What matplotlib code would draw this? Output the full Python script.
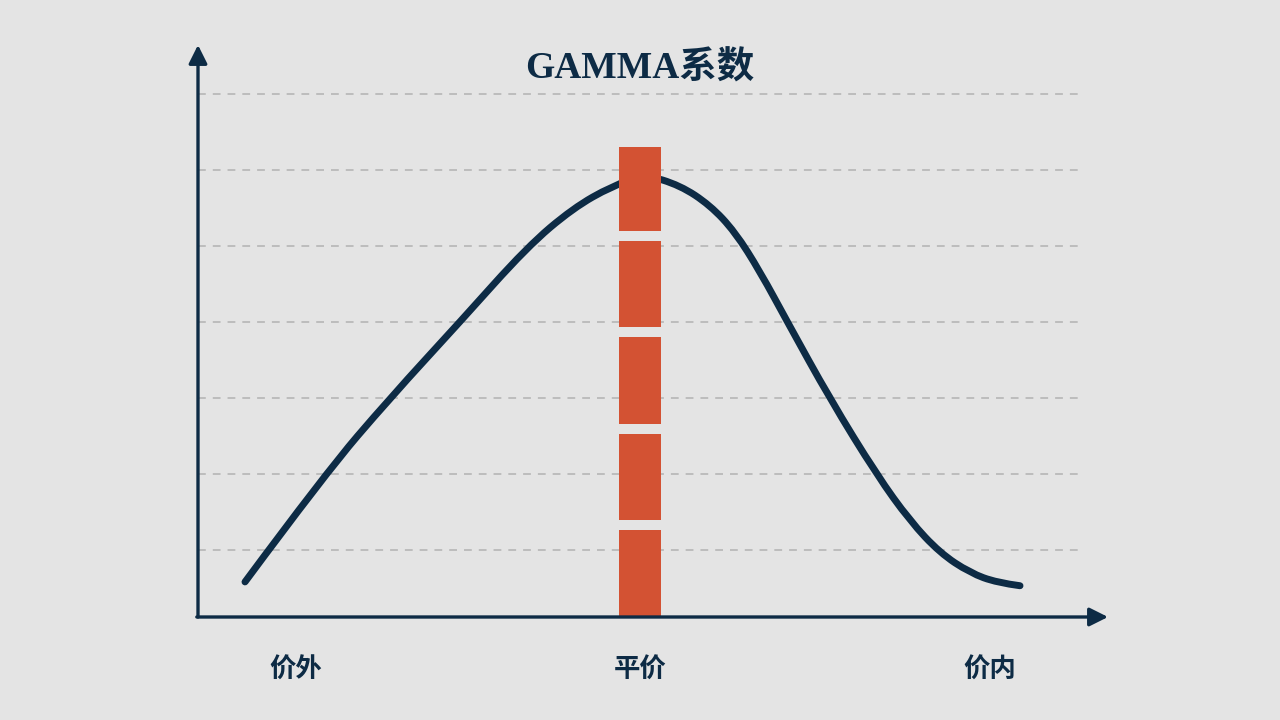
import matplotlib
matplotlib.use("Agg")
import matplotlib.pyplot as plt
from matplotlib.path import Path
from matplotlib.patches import PathPatch

# values (x: distance from the y axis, y: gamma level)
curve_x = [0.47, 1.27, 1.92, 2.62, 3.29, 3.75, 4.14, 4.47, 4.82, 5.12, 5.37,
           5.62, 5.90, 6.32, 6.79, 7.12, 7.42, 7.72, 7.99, 8.22]
curve_y = [0.46, 1.875, 2.87, 3.87, 4.85, 5.36, 5.65, 5.80, 5.66, 5.40, 5.05,
           4.53, 3.855, 2.86, 1.86, 1.26, 0.84, 0.58, 0.45, 0.41]

grid_levels = [0.88, 1.875, 2.87, 3.87, 4.86, 5.86, 6.86]

bar_x = 4.42
bar_bottoms = [0.0, 1.27, 2.53, 3.80, 5.06]
bar_tops = [1.14, 2.40, 3.67, 4.93, 6.16]

tick_pos = [0.98, 4.42, 7.92]
tick_labels = ["价外", "平价", "价内"]

title = "GAMMA系数"

BG = "#e4e4e4"
NAVY = "#0d2b45"
ORANGE = "#d35233"
GRID = "#bcbcbc"

fig = plt.figure(figsize=(12.8, 7.2), dpi=100, facecolor=BG)
ax = fig.add_axes([198 / 1280, 103 / 720, 910 / 1280, 572 / 720])
ax.set_facecolor(BG)
ax.set_xlim(0, 9.1)
ax.set_ylim(0, 7.5)
for s in ax.spines.values():
    s.set_visible(False)
ax.set_xticks([])
ax.set_yticks([])

ax.hlines(grid_levels, 0, 8.82, colors=GRID, linewidth=1.4,
          linestyles=(0, (4, 3.6)), zorder=1)

# smooth curve: quadratic bezier segments through the read points
pts = list(zip(curve_x, curve_y))
verts = [pts[0]]
codes = [Path.MOVETO]
for i in range(1, len(pts) - 1):
    mid = ((pts[i][0] + pts[i + 1][0]) / 2, (pts[i][1] + pts[i + 1][1]) / 2)
    end = pts[i + 1] if i == len(pts) - 2 else mid
    verts += [pts[i], end]
    codes += [Path.CURVE3, Path.CURVE3]
curve = PathPatch(Path(verts, codes), facecolor="none", edgecolor=NAVY,
                  linewidth=5, capstyle="round", joinstyle="round", zorder=2)
ax.add_patch(curve)

heights = [t - b for b, t in zip(bar_bottoms, bar_tops)]
ax.bar([bar_x] * len(heights), heights, bottom=bar_bottoms, width=0.42,
       color=ORANGE, linewidth=0, zorder=3)

# axes with arrow heads
arrow = dict(arrowstyle="-|>", color=NAVY, lw=2.4, mutation_scale=28,
             shrinkA=0, shrinkB=0)
ax.annotate("", xy=(0, 7.5), xytext=(0, 0), arrowprops=arrow,
            annotation_clip=False, zorder=4)
ax.annotate("", xy=(9.1, 0), xytext=(-0.012, 0), arrowprops=arrow,
            annotation_clip=False, zorder=4)

fam = ["Liberation Serif", "Noto Sans CJK SC", "DejaVu Sans"]
fig.text(0.5, 1 - 69 / 720, title, ha="center", va="center", fontsize=27,
         fontweight="bold", color=NAVY, family=fam)

for x, lab in zip(tick_pos, tick_labels):
    ax.text(x, -0.7, lab, ha="center", va="center", fontsize=19,
            fontweight="bold", color=NAVY, family=["Noto Sans CJK SC", "DejaVu Sans"])

fig.savefig("out.png", dpi=100, facecolor=BG)
